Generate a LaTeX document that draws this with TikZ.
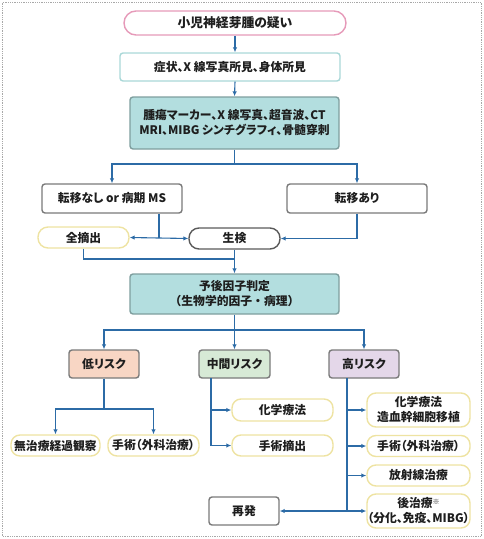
\documentclass[tikz,border=0pt]{standalone}
\usepackage{fontspec}
\setmainfont[RawFeature=+palt]{Noto Sans CJK JP}
\newfontfamily\fullw{Noto Sans CJK JP}
\usetikzlibrary{arrows.meta}
\definecolor{arrowblue}{HTML}{2C6BA6}
\definecolor{pinkline}{HTML}{E69AB9}
\definecolor{tealline}{HTML}{AAD8D8}
\definecolor{tealfill}{HTML}{B3DEDF}
\definecolor{tealdark}{HTML}{7E9E9E}
\definecolor{grayline}{HTML}{7A7A7A}
\definecolor{darkline}{HTML}{5A5A5A}
\definecolor{yellowline}{HTML}{EEE3A2}
\definecolor{lowfill}{HTML}{F8D6C4}
\definecolor{midfill}{HTML}{D7EAD6}
\definecolor{highfill}{HTML}{E4D7E9}
\definecolor{textcol}{HTML}{1E1E1E}
\definecolor{frame}{HTML}{A8A8A8}
\begin{document}
\begin{tikzpicture}[x=1pt,y=-1pt,
  base/.style={align=center, inner sep=0pt, line width=1.4pt, text=textcol,
    font=\fontsize{11.8}{15}\selectfont\bfseries},
  pill/.style={base, draw=pinkline, fill=white, rounded corners=12pt},
  plainbox/.style={base, draw=tealline, fill=white, rounded corners=3pt},
  tealbox/.style={base, draw=tealdark, fill=tealfill, rounded corners=3pt},
  graybox/.style={base, draw=grayline, fill=white, rounded corners=3pt},
  yelbox/.style={base, draw=yellowline, fill=white, rounded corners=9pt},
  biobox/.style={base, draw=darkline, fill=white, rounded corners=10pt},
  riskbox/.style={base, draw=grayline, rounded corners=3pt},
  conn/.style={draw=arrowblue, line width=1.1pt},
  arr/.style={conn, -{Latex[length=5pt,width=4.5pt]}}
]
\useasboundingbox (0,0) rectangle (484,539);
\draw[frame, densely dotted, line width=0.8pt] (2.5,2.5) rectangle (481.5,536.5);

% nodes
\node[pill, minimum width=222pt, minimum height=24pt, font=\fontsize{12.8}{15}\selectfont\bfseries] (top) at (235,23) {小児神経芽腫の疑い};
\node[plainbox, minimum width=220pt, minimum height=28pt] (sym) at (230,67) {症状、X 線写真所見、身体所見};
\node[tealbox, minimum width=209pt, minimum height=52pt] (exam) at (234.5,123) {腫瘍マーカー、X 線写真、超音波、CT\\MRI、MIBG シンチグラフィ、骨髄穿刺};
\node[graybox, minimum width=140pt, minimum height=29pt] (nomet) at (112,198.5) {転移なし or 病期 MS};
\node[graybox, minimum width=140pt, minimum height=29pt] (met) at (357,198.5) {転移あり};
\node[yelbox, rounded corners=10pt, minimum width=91pt, minimum height=21pt] (zen) at (83.5,237.5) {全摘出};
\node[biobox, minimum width=91pt, minimum height=21pt] (bio) at (234.5,238.5) {生検};
\node[tealbox, minimum width=209pt, minimum height=40pt, font=\fontsize{11.8}{15}\fullw\bfseries] (prog) at (234.5,294) {予後因子判定\\（生物学的因子・病理）};
\node[riskbox, fill=lowfill, minimum width=70pt, minimum height=28pt] (low) at (104,364) {低リスク};
\node[riskbox, fill=midfill, minimum width=71pt, minimum height=28pt] (mid) at (234.5,364) {中間リスク};
\node[riskbox, fill=highfill, minimum width=70pt, minimum height=28pt] (high) at (364,364) {高リスク};
\node[yelbox, minimum width=89pt, minimum height=21pt] (none) at (55.5,445.5) {無治療経過観察};
\node[yelbox, minimum width=91pt, minimum height=21pt] (surga) at (153.5,445.5) {手術（外科治療）};
\node[yelbox, minimum width=101pt, minimum height=22pt] (chem) at (282.5,410) {化学療法};
\node[yelbox, minimum width=101pt, minimum height=21pt] (resect) at (282.5,445.5) {手術摘出};
\node[yelbox, minimum width=103pt, minimum height=34pt] (chemsct) at (418.5,410) {化学療法\\造血幹細胞移植};
\node[yelbox, minimum width=103pt, minimum height=21pt] (surgb) at (418.5,446) {手術（外科治療）};
\node[yelbox, minimum width=103pt, minimum height=21pt] (rad) at (418.5,475.5) {放射線治療};
\node[yelbox, minimum width=103pt, minimum height=34pt] (post) at (418.5,511) {後治療{\fontsize{7}{8}\selectfont\raisebox{3pt}{※}}\\（分化、免疫、MIBG）};
\node[graybox, minimum width=70pt, minimum height=28pt] (relapse) at (244,511) {再発};

% junction points
\coordinate (s1) at (234.5,164);
\coordinate (b1) at (159,238);
\coordinate (m1) at (234.5,259);
\coordinate (s2) at (234.5,330);
\coordinate (l1) at (104,409);
\coordinate (mj) at (211,378);
\coordinate (hj) at (347,378);
\coordinate (h1) at (347,511);

% connectors
\draw[arr] (top.south) -- (top.south |- sym.north);
\draw[arr] (top.south |- sym.south) -- (exam.north);
\draw[conn] (exam.south) -- (s1);
\draw[arr] (s1) -| (nomet.north);
\draw[arr] (s1) -| (met.north);
\draw[conn] (nomet.south -| b1) -- (b1);
\draw[arr] (b1) -- (zen.east);
\draw[arr] (b1) -- (bio.west);
\draw[arr] (met.south) |- (bio.east);
\draw[conn] (zen.south) |- (m1);
\draw[arr] (bio.south) -- (prog.north);
\draw[conn] (prog.south) -- (s2);
\draw[arr] (s2) -| (low.north);
\draw[arr] (s2) -- (mid.north);
\draw[arr] (s2) -| (high.north);
\draw[conn] (low.south) -- (l1);
\draw[arr] (l1) -| (none.north);
\draw[arr] (l1) -| (surga.north);
\draw[arr] (mj) |- (chem.west);
\draw[arr] (mj) |- (resect.west);
\draw[arr] (hj) |- (chemsct.west);
\draw[arr] (hj) |- (surgb.west);
\draw[arr] (hj) |- (rad.west);
\draw[arr] (hj) |- (post.west);
\draw[arr] (h1) -- (relapse.east);
\end{tikzpicture}
\end{document}
